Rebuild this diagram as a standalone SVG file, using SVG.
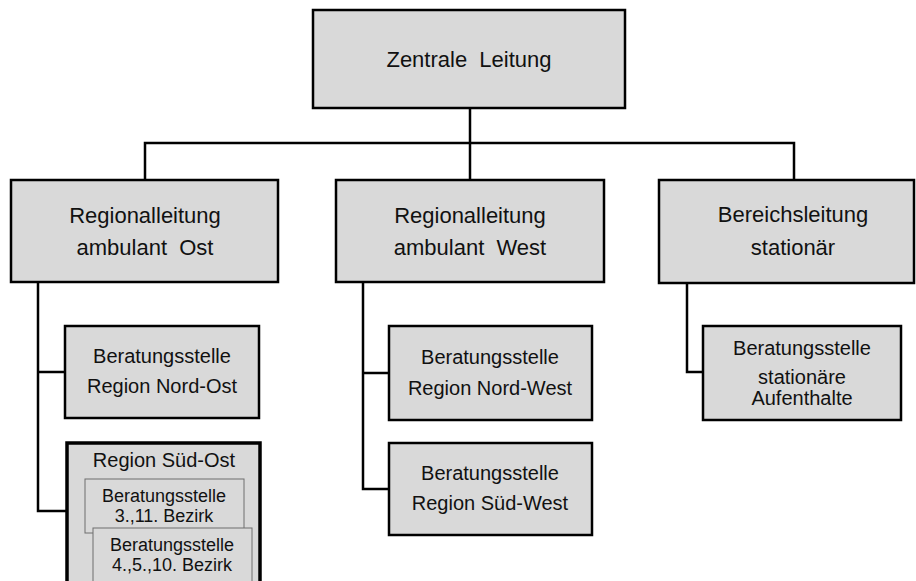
<svg xmlns="http://www.w3.org/2000/svg" width="916" height="581" viewBox="0 0 916 581">
<style>
.box{fill:#d9d9d9;stroke:#000;stroke-width:2.5}
.thick{fill:#d9d9d9;stroke:#000;stroke-width:3.5}
.inner{fill:#d9d9d9;stroke:#6e6e6e;stroke-width:1}
.con{fill:none;stroke:#000;stroke-width:2.5}
text{font-family:"Liberation Sans",Arial,sans-serif;fill:#111;text-anchor:middle}
.t1{font-size:22px}
.t2{font-size:20px}
.t3{font-size:18px}
</style>
<rect width="916" height="581" fill="#fff"/>
<g id="connectors">
<path class="con" d="M470,108 V180"/>
<path class="con" d="M145,180 V143 H794 V180"/>
<path class="con" d="M38,282 V511 H67 M38,372 H65"/>
<path class="con" d="M363,282 V489 H389 M363,373 H389"/>
<path class="con" d="M687,283 V372 H703"/>
</g>
<g id="zentrale">
<rect class="box" x="313" y="10" width="312" height="98"/>
<text class="t1" x="469" y="67" xml:space="preserve">Zentrale  Leitung</text>
</g>
<g id="ost">
<rect class="box" x="11" y="180" width="267" height="102"/>
<text class="t1" x="145" y="223">Regionalleitung</text>
<text class="t1" x="145" y="255" xml:space="preserve">ambulant  Ost</text>
</g>
<g id="west">
<rect class="box" x="336" y="180" width="268" height="102"/>
<text class="t1" x="470" y="223">Regionalleitung</text>
<text class="t1" x="470" y="255" xml:space="preserve">ambulant  West</text>
</g>
<g id="stationaer">
<rect class="box" x="659" y="180" width="255" height="103"/>
<text class="t1" x="793" y="222">Bereichsleitung</text>
<text class="t1" x="793" y="255">stationär</text>
</g>
<g id="nordost">
<rect class="box" x="65" y="326" width="194" height="92"/>
<text class="t2" x="162" y="363">Beratungsstelle</text>
<text class="t2" x="162" y="393">Region Nord-Ost</text>
</g>
<g id="suedost">
<rect class="thick" x="67" y="443" width="193" height="145"/>
<text class="t2" x="164" y="467">Region Süd-Ost</text>
<g id="bezirk3">
<rect class="inner" x="85" y="479" width="159" height="54"/>
<text class="t3" x="164" y="502">Beratungsstelle</text>
<text class="t3" x="164" y="522">3.,11. Bezirk</text>
</g>
<g id="bezirk4">
<rect class="inner" x="93" y="528" width="159" height="60"/>
<text class="t3" x="172" y="551">Beratungsstelle</text>
<text class="t3" x="172" y="571">4.,5.,10. Bezirk</text>
</g>
</g>
<g id="nordwest">
<rect class="box" x="389" y="326" width="203" height="94"/>
<text class="t2" x="490" y="364">Beratungsstelle</text>
<text class="t2" x="490" y="395">Region Nord-West</text>
</g>
<g id="suedwest">
<rect class="box" x="389" y="443" width="203" height="92"/>
<text class="t2" x="490" y="480">Beratungsstelle</text>
<text class="t2" x="490" y="510">Region Süd-West</text>
</g>
<g id="aufenthalte">
<rect class="box" x="703" y="326" width="198" height="94"/>
<text class="t2" x="802" y="355">Beratungsstelle</text>
<text class="t2" x="802" y="384">stationäre</text>
<text class="t2" x="802" y="405">Aufenthalte</text>
</g>
</svg>
